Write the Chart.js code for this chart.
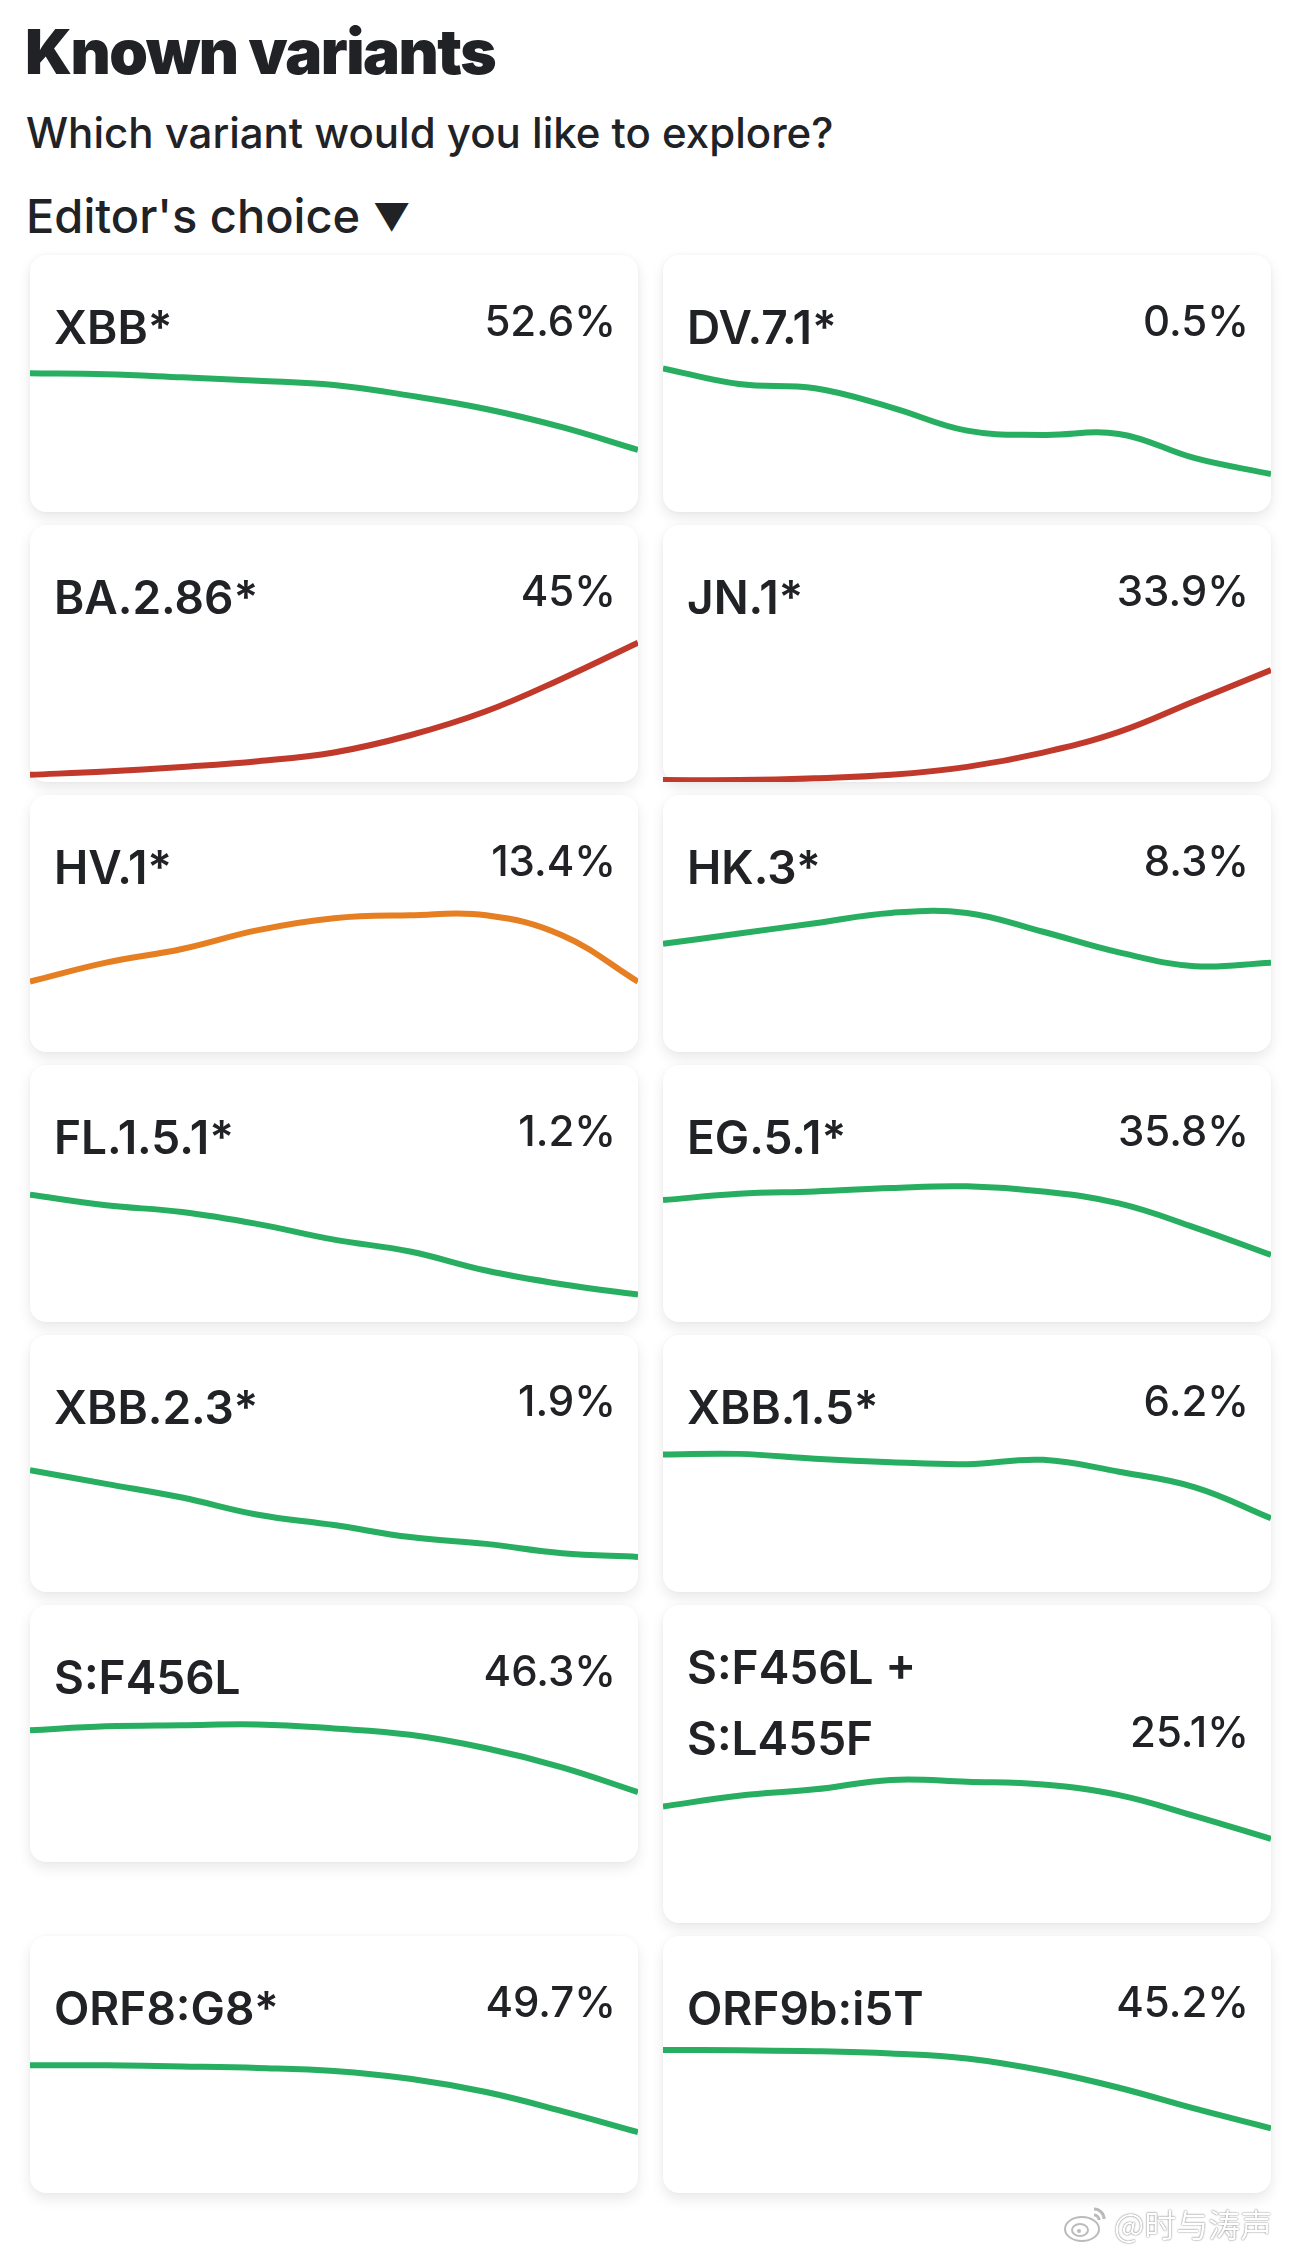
<!DOCTYPE html>
<html>
<head>
<meta charset="utf-8">
<script src="https://cdn.jsdelivr.net/npm/chart.js@4.4.1/dist/chart.umd.min.js"></script>
<style>
  body {
    margin: 0;
    background: #fff;
    font-family: Inter, "Noto Sans", sans-serif;
    color: #202226;
    width: 1290px;
    height: 2255px;
    position: relative;
    overflow: hidden;
  }
  h1 {
    margin: 21px 0 0 25px;
    font-size: 62px;
    line-height: 62px;
    font-weight: 900;
    letter-spacing: -1.5px;
  }
  .sub {
    margin: 25px 0 0 26px;
    font-size: 42px;
    line-height: 50px;
    font-weight: 500;
  }
  .pick {
    margin: 33px 0 0 26px;
    font-size: 47px;
    line-height: 50px;
    font-weight: 500;
  }
  .pick .tri {
    font-size: 37px;
    line-height: 0;
    position: relative;
    top: -3px;
  }
  .grid {
    margin: 14px 0 0 30px;
    display: grid;
    grid-template-columns: 608px 608px;
    column-gap: 25px;
    row-gap: 13px;
    align-items: start;
  }
  .card {
    position: relative;
    background: #fff;
    border-radius: 16px;
    box-shadow: 0 6px 14px rgba(0,0,0,0.09), 0 0 4px rgba(0,0,0,0.04);
    padding: 37px 22px 149px 24px;
  }
  .card.wrap { padding-top: 27px; }
  .head {
    position: relative;
    z-index: 2;
    display: flex;
    justify-content: space-between;
    align-items: flex-end;
  }
  .name {
    font-size: 46px;
    line-height: 71px;
    font-weight: 600;
    max-width: 300px;
  }
  .share {
    font-size: 42px;
    line-height: 71px;
    font-weight: 500;
    position: relative;
    top: -7px;
  }
  .plot {
    position: absolute;
    left: 0;
    right: 0;
    bottom: 0;
    height: 150px;
  }
  .mark {
    position: absolute;
    left: 1062px;
    top: 2200px;
    font-size: 32px;
    color: #fff;
    font-family: "Noto Sans CJK SC", sans-serif;
    text-shadow: 0 0 2px rgba(0,0,0,0.45), 0 0 1px rgba(0,0,0,0.4);
    display: flex;
    align-items: center;
    gap: 4px;
  }
</style>
</head>
<body>
<h1>Known variants</h1>
<div class="sub">Which variant would you like to explore?</div>
<div class="pick">Editor's choice <span class="tri">▼</span></div>
<div class="grid" id="grid"></div>
<div class="mark">
  <svg width="48" height="40" viewBox="0 0 48 40">
    <ellipse cx="20" cy="26" rx="17" ry="12" fill="#fff" stroke="#bbb" stroke-width="2"/>
    <ellipse cx="18" cy="27" rx="8" ry="6" fill="#fff" stroke="#bbb" stroke-width="2"/>
    <circle cx="17" cy="28" r="2" fill="#bbb"/>
    <path d="M32 6 A10 10 0 0 1 42 16" fill="none" stroke="#bbb" stroke-width="3"/>
    <path d="M32 12 A5 5 0 0 1 37 17" fill="none" stroke="#bbb" stroke-width="3"/>
  </svg>
  <span>@时与涛声</span>
</div>
<script>
// weekly samples, left to right
const weeks = ["W1", "W2", "W3", "W4", "W5", "W6", "W7", "W8", "W9"];

const variantNames = ["XBB*", "DV.7.1*", "BA.2.86*", "JN.1*", "HV.1*", "HK.3*",
  "FL.1.5.1*", "EG.5.1*", "XBB.2.3*", "XBB.1.5*", "S:F456L", "S:F456L + S:L455F",
  "ORF8:G8*", "ORF9b:i5T"];
const variantShares = ["52.6%", "0.5%", "45%", "33.9%", "13.4%", "8.3%",
  "1.2%", "35.8%", "1.9%", "6.2%", "46.3%", "25.1%", "49.7%", "45.2%"];
const trendColors = ["#27ae60", "#27ae60", "#c0392b", "#c0392b", "#e67e22", "#27ae60",
  "#27ae60", "#27ae60", "#27ae60", "#27ae60", "#27ae60", "#27ae60", "#27ae60", "#27ae60"];

// relative level of each variant over the weeks
const xbb = [100, 99.3, 97.1, 94.7, 91.6, 83.9, 74.3, 61.2, 44.8];
const dv71 = [103.6, 92.3, 89.2, 75.5, 58.7, 55.6, 56.3, 38.8, 27.4];
const ba286 = [5.2, 7.6, 10.9, 15.0, 21.3, 33.7, 51.0, 74.5, 100.5];
const jn1 = [1.4, 1.4, 2.7, 5.2, 10.9, 21.2, 36.1, 58.4, 80.7];
const hv1 = [50.7, 64.4, 74.3, 87.9, 96.5, 98.6, 98.6, 84.2, 50.7];
const hk3 = [78.0, 85.4, 92.9, 100.3, 100.3, 86.7, 71.8, 61.9, 64.4];
const fl151 = [91.7, 84.2, 79.3, 70.6, 59.4, 50.8, 37.1, 27.2, 19.8];
const eg51 = [87.9, 92.4, 94.1, 96.6, 97.8, 94.1, 85.5, 68.1, 48.3];
const xbb23 = [87.9, 78.0, 68.1, 55.7, 48.3, 39.6, 34.7, 28.0, 25.3];
const xbb15 = [99.1, 99.6, 96.1, 93.6, 92.2, 95.3, 86.7, 75.5, 53.2];
const sF456L = [95.0, 97.8, 98.6, 99.2, 96.3, 91.7, 82.0, 68.3, 50.4];
const sF456L_L455F = [84.0, 91.7, 96.4, 103.2, 101.9, 99.9, 92.2, 77.1, 60.6];
const orf8G8 = [92.1, 92.1, 91.3, 90.2, 88.0, 82.4, 72.8, 59.1, 43.9];
const orf9bI5T = [103.1, 102.9, 102.3, 100.6, 97.0, 88.3, 75.9, 60.8, 46.7];

const allSeries = [xbb, dv71, ba286, jn1, hv1, hk3, fl151, eg51, xbb23, xbb15,
  sF456L, sF456L_L455F, orf8G8, orf9bI5T];

const grid = document.getElementById("grid");

variantNames.forEach((name, i) => {
  const card = document.createElement("div");
  card.className = "card" + (name.length > 12 ? " wrap" : "");
  card.innerHTML =
    '<div class="head"><div class="name">' + name + '</div>' +
    '<div class="share">' + variantShares[i] + '</div></div>' +
    '<div class="plot"><canvas></canvas></div>';
  grid.appendChild(card);

  const ctx = card.querySelector("canvas").getContext("2d");
  new Chart(ctx, {
    type: "line",
    data: {
      labels: weeks,
      datasets: [
        {
          data: allSeries[i],
          borderColor: trendColors[i],
          borderWidth: 6,
          pointRadius: 0,
          tension: 0.4,
          fill: false,
        },
      ],
    },
    options: {
      responsive: true,
      maintainAspectRatio: false,
      animation: false,
      layout: { padding: { top: 3, bottom: 0, left: 0, right: 0 } },
      plugins: { legend: { display: false }, tooltip: { enabled: false } },
      scales: {
        x: { display: false },
        y: { display: false, min: 0, max: 106 },
      },
    },
  });
});
</script>
</body>
</html>
